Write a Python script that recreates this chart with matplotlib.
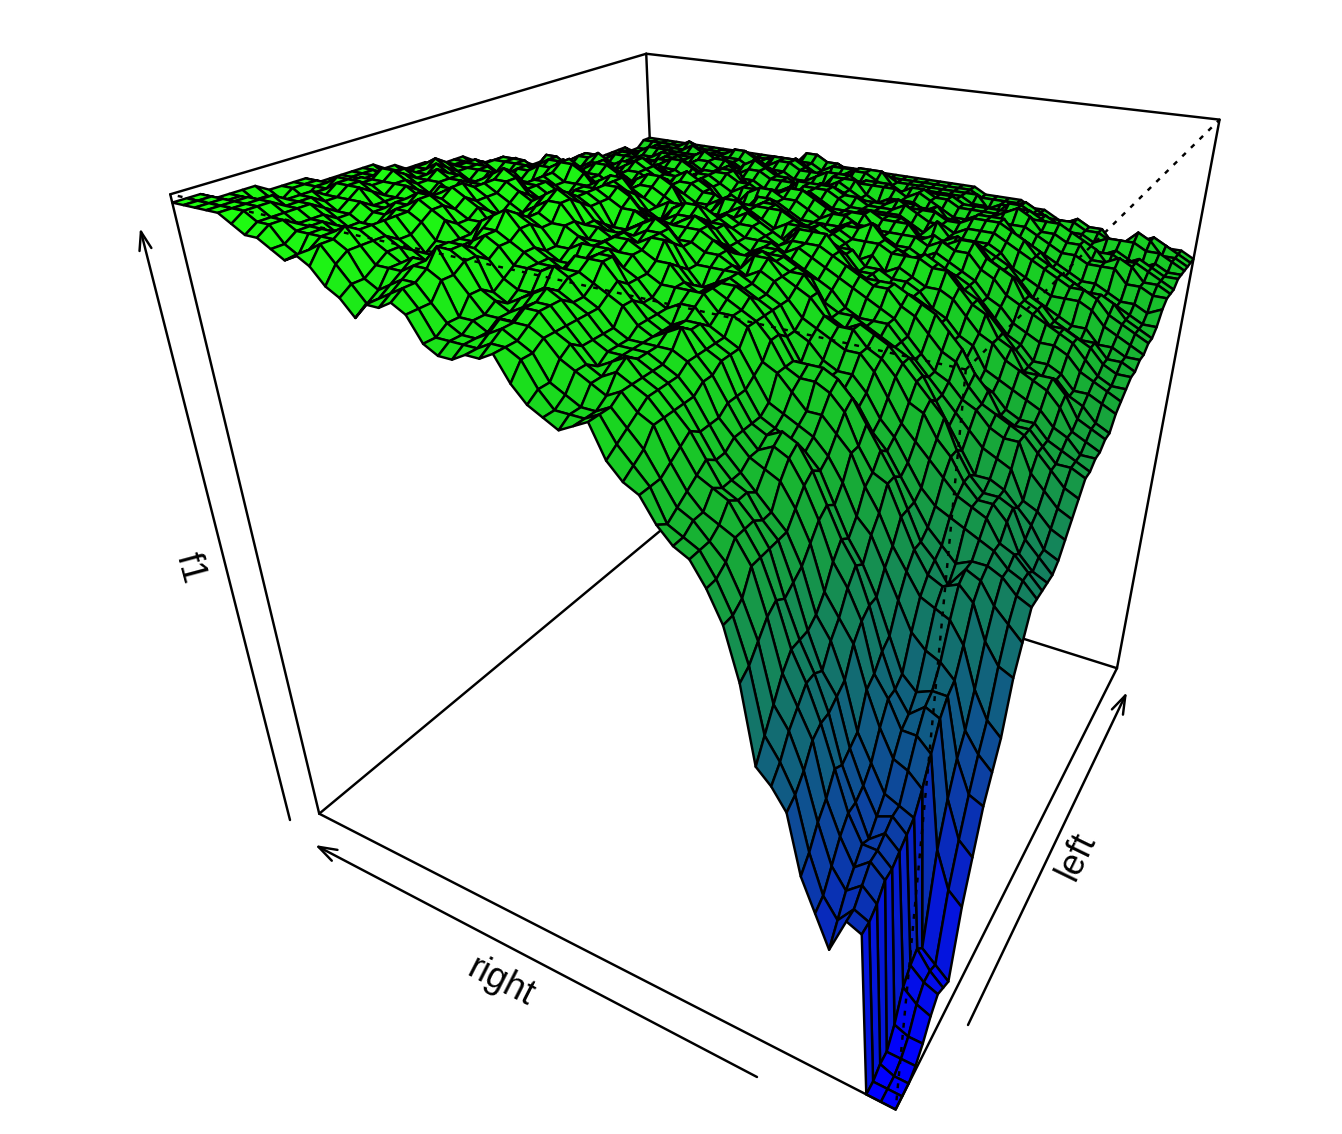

import numpy as np, matplotlib
matplotlib.use('Agg')
import matplotlib.pyplot as plt
from matplotlib.collections import PolyCollection
from matplotlib.colors import LinearSegmentedColormap

axis_labels = ['right', 'left', 'f1']
right = np.linspace(0, 1, 51)
left = np.linspace(0, 1, 51)
f1_rows = """
0 0 0 1 3|6 8 7 6 18|25 32 36 40 48|52 56 56 56 56|56 57 59 61 63|65 65 66 66 67|67 69 70 71 72|72 73 73 74 74|75 77 78 78 78|79 79 79 79 79|79
0 0 0 1 3|7 9 9 8 20|27 33 38 42 49|54 57 58 58 57|58 58 60 62 64|66 66 66 67 68|68 70 71 71 72|73 73 74 75 75|75 76 78 79 79|79 79 80 80 80|80
0 0 1 1 4|9 11 12 10 26|33 38 41 46 52|56 59 59 60 59|60 61 62 64 66|66 67 68 68 69|70 71 72 72 73|73 74 75 76 76|76 77 79 79 80|80 80 81 80 81|80
28 28 29 31 31|32 33 34 37 41|45 47 48 52 57|59 60 61 61 63|64 63 63 66 68|68 68 69 71 72|71 71 73 74 75|75 74 76 77 78|77 77 79 81 81|81 79 81 82 82|81
29 29 31 33 33|34 35 35 39 43|46 47 50 55 59|60 60 62 64 65|65 65 67 70 70|70 70 71 73 74|73 73 75 76 76|75 76 78 79 79|78 78 81 82 81|80 80 82 83 81|80
23 26 29 31 33|32 34 36 40 43|44 46 51 56 58|57 59 63 65 65|65 66 68 70 71|70 70 72 74 74|73 74 76 77 77|76 76 79 80 79|78 79 81 81 80|81 81 82 81 79|80
28 29 32 35 37|37 38 40 44 47|47 48 53 57 59|60 61 64 66 67|67 66 69 71 72|71 71 73 75 74|74 74 76 78 77|77 77 79 80 80|79 79 81 81 82|81 80 82 81 80|80
33 35 38 40 43|42 43 44 49 50|52 53 57 60 62|62 63 65 68 70|70 69 71 73 73|74 73 74 76 77|76 76 77 79 79|79 78 79 81 81|80 80 82 83 83|81 81 81 82 82|80
42 43 45 48 49|49 50 51 55 57|58 58 61 63 66|66 66 67 70 72|74 72 73 74 75|76 74 75 78 78|78 77 78 80 80|80 79 80 82 82|81 81 82 83 84|83 81 82 82 82|81
45 47 50 52 54|54 53 56 58 61|63 62 65 67 70|70 69 70 72 75|76 75 75 76 78|79 77 78 79 81|80 79 80 81 83|82 81 81 83 83|83 82 83 84 85|84 83 82 83 83|81
47 50 53 56 58|58 58 59 61 64|66 65 67 70 71|73 72 73 74 76|78 78 77 77 79|81 79 79 81 82|82 81 81 83 84|83 83 82 84 85|84 83 84 84 85|84 83 83 83 82|81
58 59 61 63 64|63 64 65 67 69|70 69 71 74 74|76 74 75 77 79|80 80 79 79 81|83 81 81 83 84|83 83 83 84 85|84 84 84 85 86|85 84 85 86 85|84 84 84 83 82|82
65 65 66 69 69|69 69 69 71 73|74 73 74 76 78|79 77 78 80 81|82 81 81 81 83|84 83 82 84 86|85 84 84 86 87|86 85 85 86 87|87 85 85 87 86|85 85 84 84 83|83
69 69 70 72 72|72 71 71 74 76|77 75 76 78 80|81 79 80 82 82|83 82 83 83 84|85 84 84 84 86|86 84 85 86 87|86 85 85 86 87|87 85 85 86 85|85 85 85 85 83|83
72 72 72 73 75|74 74 73 75 77|78 76 77 78 81|82 80 80 82 84|84 83 83 84 86|86 84 85 85 87|87 85 86 87 86|85 86 85 86 87|87 85 85 85 85|85 84 85 84 84|84
73 73 74 74 76|75 75 75 76 76|77 77 78 80 81|82 80 81 83 84|83 84 83 85 86|86 84 85 86 87|86 85 85 86 87|85 85 85 85 86|85 84 84 85 85|85 83 83 84 84|84
75 74 75 76 77|78 77 77 78 78|78 78 79 82 82|82 81 83 84 85|84 84 84 86 87|86 86 86 85 87|87 86 86 87 86|85 85 87 86 86|84 85 84 84 85|85 84 84 83 84|84
78 78 78 79 80|81 80 80 80 81|81 81 82 83 85|85 84 84 85 87|87 85 86 87 88|87 86 86 87 88|88 86 86 87 88|87 85 85 86 87|86 85 84 84 85|85 84 84 85 84|84
79 80 81 83 83|83 83 83 84 84|85 85 85 87 87|87 87 87 87 88|89 88 87 88 89|89 88 88 86 88|90 89 87 87 88|88 87 86 87 87|86 86 86 85 86|86 85 85 85 85|85
81 82 83 84 85|85 85 85 86 86|86 86 86 88 88|89 88 88 89 89|89 89 88 89 90|91 89 88 88 88|89 88 88 87 88|88 87 87 88 87|87 86 85 86 86|86 85 85 85 85|85
85 85 85 86 86|86 86 86 87 89|88 88 87 88 89|90 89 89 90 91|90 90 89 90 90|91 90 89 89 89|89 89 88 89 89|88 87 87 87 88|87 86 86 87 87|86 85 85 85 85|85
84 84 84 85 87|88 87 87 87 88|88 88 89 90 90|90 90 90 89 91|91 90 90 89 90|91 90 90 90 88|88 88 89 89 88|88 87 87 87 87|87 86 86 86 87|86 85 85 85 85|85
83 84 84 86 86|87 87 87 87 87|87 87 89 90 89|89 89 90 90 89|90 90 90 90 89|89 90 90 89 88|87 88 89 88 87|87 87 87 87 87|85 85 86 87 86|84 84 85 85 85|85
84 84 85 87 87|86 87 87 87 88|88 88 88 90 90|89 88 90 91 91|90 89 89 90 90|90 88 90 90 89|88 88 88 89 88|87 87 87 88 87|86 85 85 87 87|85 84 84 85 85|85
85 86 86 88 89|88 88 88 88 90|90 89 89 90 92|91 90 90 91 92|91 90 90 90 91|91 89 89 91 90|88 88 89 90 89|87 87 88 88 87|86 86 86 87 87|85 85 85 85 85|85
87 89 89 90 90|90 90 90 90 91|92 91 91 91 92|94 93 92 92 93|93 92 92 91 91|92 91 90 91 91|89 89 90 91 90|88 88 89 89 88|87 87 88 87 87|86 86 87 86 85|85
90 90 90 91 92|92 92 91 91 92|94 94 92 93 93|94 94 94 92 93|94 93 92 92 92|91 92 91 91 91|91 90 90 91 90|89 89 89 89 88|87 88 88 88 86|86 87 87 86 85|85
89 90 91 91 92|92 93 92 93 93|94 94 94 93 94|93 94 95 94 93|93 93 94 93 91|91 91 92 91 90|91 90 91 90 90|90 88 89 89 88|88 87 88 88 87|86 87 87 86 85|85
89 89 90 91 90|91 92 92 94 93|94 93 94 94 94|94 93 94 94 93|92 93 94 92 91|91 90 92 92 89|89 89 91 90 89|89 88 87 89 88|87 87 86 88 87|86 85 86 86 85|85
88 89 89 89 90|90 91 91 93 93|92 92 94 93 93|93 93 93 93 93|91 92 93 93 90|90 90 90 91 90|88 88 90 90 89|87 88 87 87 88|87 85 86 87 87|85 85 85 86 85|85
88 89 89 90 90|91 90 91 93 93|93 92 93 94 93|94 93 92 92 94|93 92 91 93 92|91 89 89 90 91|89 87 88 90 90|88 87 87 87 88|88 86 85 86 87|86 85 84 86 86|85
89 89 90 90 92|92 91 92 93 94|94 93 93 95 95|94 94 93 92 94|95 93 92 92 93|94 91 90 90 91|91 89 88 89 90|89 87 87 87 88|88 87 85 86 87|87 85 85 85 86|85
92 92 92 94 94|95 95 94 95 95|96 96 95 95 97|97 96 95 95 95|96 95 94 93 94|95 94 92 91 92|92 91 90 90 91|91 90 88 88 89|89 88 87 87 88|88 87 86 86 87|85
93 94 94 95 97|96 96 95 96 96|98 97 96 96 97|98 97 96 96 96|96 96 96 94 94|95 94 93 92 92|93 91 91 91 91|91 91 89 88 89|90 88 88 87 88|88 87 87 86 87|85
92 93 94 95 95|96 96 94 95 96|97 97 96 95 96|97 97 95 96 96|95 95 96 95 93|94 94 93 92 91|92 91 90 91 91|90 90 89 87 88|89 88 87 87 87|88 86 86 85 85|85
92 92 93 94 95|94 94 94 94 94|96 96 95 94 95|95 96 95 94 94|94 94 95 94 92|92 93 93 91 90|90 90 90 90 90|88 89 89 87 87|87 87 87 86 86|86 85 85 85 85|85
90 91 92 94 94|93 93 93 94 94|94 95 94 94 94|94 95 94 93 93|93 92 94 93 92|91 92 92 91 89|89 89 89 90 88|87 88 88 87 86|86 87 87 86 85|85 85 85 84 85|85
92 93 93 94 95|95 94 93 94 96|95 95 96 95 94|95 96 95 94 94|94 93 94 95 93|92 92 93 92 90|89 90 90 90 89|88 88 89 88 87|87 87 88 87 85|85 85 86 85 85|85
93 95 96 96 96|96 95 95 96 97|97 96 97 96 96|96 97 97 95 95|95 94 94 96 95|93 93 94 93 91|90 91 91 91 90|89 89 90 89 87|87 88 88 88 86|86 86 87 86 85|85
95 97 97 98 97|97 97 97 97 98|98 97 98 98 97|97 97 98 97 95|95 95 95 96 96|94 93 94 94 92|91 91 92 92 90|90 89 90 90 88|88 88 89 88 87|86 86 87 86 85|85
96 96 97 97 97|97 96 96 97 97|98 97 97 97 97|96 96 97 96 96|94 94 94 95 95|94 92 93 93 92|90 90 91 91 90|89 88 89 89 88|87 87 88 88 86|85 86 86 86 85|85
95 95 97 97 96|96 96 95 96 97|97 96 96 97 96|95 96 96 95 95|94 93 93 95 94|93 91 91 92 92|90 89 90 91 90|88 88 88 89 88|86 86 87 87 86|85 85 86 86 85|85
96 96 97 97 97|96 95 95 96 96|95 96 96 95 95|95 96 95 94 94|94 93 93 94 93|92 91 91 92 91|89 89 89 90 89|87 87 88 88 87|86 86 87 87 85|85 85 85 85 85|85
97 98 98 97 97|97 96 96 97 96|96 96 97 96 95|96 96 96 94 94|95 94 93 94 94|93 91 91 91 91|90 89 89 90 90|88 87 88 88 88|86 86 87 87 86|84 85 85 85 85|85
97 98 98 98 98|98 97 96 97 98|97 96 97 97 96|96 97 96 95 94|95 95 93 93 94|94 92 91 91 92|91 89 89 90 91|89 87 87 88 88|87 86 86 87 87|85 85 85 86 85|85
98 99 99 99 98|98 98 97 97 98|98 97 97 98 97|96 96 97 96 95|95 95 94 93 94|94 93 91 91 92|92 90 89 89 90|90 88 87 87 88|88 86 86 86 87|86 85 85 85 86|85
99 99 99 99 99|98 98 98 97 98|98 97 97 98 97|97 96 96 97 96|95 95 95 94 94|94 93 92 91 91|92 91 89 89 90|90 89 87 87 88|88 87 86 86 87|86 85 85 85 85|85
99 99 99 99 98|98 97 97 97 97|98 97 97 96 97|96 95 96 96 95|94 94 94 93 93|93 92 91 90 90|90 90 88 88 89|89 88 86 86 87|87 86 85 85 86|85 84 85 85 85|85
99 99 99 98 98|97 97 96 96 97|97 96 96 96 96|95 95 95 95 94|94 93 93 93 92|92 92 90 90 90|90 89 88 87 88|88 87 86 86 86|86 85 85 85 85|85 84 84 85 85|85
99 99 99 98 98|97 97 96 97 97|97 96 95 96 96|96 95 95 94 94|94 93 93 93 93|92 92 91 90 90|89 89 88 87 87|87 87 86 85 86|86 85 84 85 85|85 84 84 84 85|85
99 99 99 98 98|98 98 97 97 97|97 96 96 96 96|96 96 95 95 94|94 94 93 93 93|93 92 91 91 90|90 90 89 88 88|88 87 87 86 86|86 85 85 85 85|85 85 84 84 85|85
"""
f1 = np.array([[float(x) for x in r.replace('|',' ').split()] for r in f1_rows.strip().splitlines()]) / 100

# projection of the unit box onto the page, fitted to the box's eight corners
corners = {(0,0,0):(894,1109),(1,0,0):(317,815),(0,1,0):(1115,671),(1,1,0):(670,523),
           (0,0,1):(970,358),(1,0,1):(172,201),(0,1,1):(1221,123),(1,1,1):(642,52)}
A = []
for (u,v,w),(x,y) in corners.items():
    A.append([u,v,w,1,0,0,0,0,-x*u,-x*v,-x*w,-x])
    A.append([0,0,0,0,u,v,w,1,-y*u,-y*v,-y*w,-y])
P = np.linalg.svd(np.array(A,float))[2][-1].reshape(3,4)
P = P/P[2,3]
def proj(u,v,w):
    u,v,w = np.asarray(u,float),np.asarray(v,float),np.asarray(w,float)
    h = np.tensordot(P, np.array([u,v,w,np.ones_like(u)]), axes=1)
    return h[0]/h[2], h[1]/h[2]

fig = plt.figure(figsize=(13.42,11.34), dpi=100)
ax = fig.add_axes([0,0,1,1])
ax.set_xlim(0,1342); ax.set_ylim(1134,0); ax.axis('off')
lw = 1.75
def edge(a,b,ls='-',z=1):
    xa,ya = proj(*a); xb,yb = proj(*b)
    ax.plot([xa,xb],[ya,yb],color='k',lw=lw,ls=ls,zorder=z,solid_capstyle='round',dash_capstyle='butt')

for a,b in [((1,1,1),(1,0,1)),((1,1,1),(0,1,1)),((1,1,1),(1,1,0)),((1,1,0),(1,0,0)),((1,1,0),(0,1,0))]:
    edge(a,b,z=1)

U,V = np.meshgrid(right,left,indexing='ij')
X,Y = proj(U,V,f1)
polys=[];vals=[]
for i in range(f1.shape[0]-2,-1,-1):
    for j in range(f1.shape[1]-2,-1,-1):
        polys.append([(X[i,j],Y[i,j]),(X[i+1,j],Y[i+1,j]),(X[i+1,j+1],Y[i+1,j+1]),(X[i,j+1],Y[i,j+1])])
        vals.append(f1[i:i+2,j:j+2].mean())
cmap = LinearSegmentedColormap.from_list('bg',[(0,(0,0,1)),(.25,(.03,.15,.75)),(.5,(.07,.42,.45)),(.7,(.09,.66,.22)),(.85,(.1,.85,.12)),(1,(.12,1,.06))])
pc = PolyCollection(polys,array=np.array(vals),cmap=cmap,norm=plt.Normalize(0,1),edgecolors='k',linewidths=lw,zorder=2,joinstyle='round')
ax.add_collection(pc)

dash=(0,(2,3))
for a,b in [((0,0,1),(1,0,1)),((0,0,1),(0,1,1)),((0,0,1),(0,0,0))]:
    edge(a,b,ls=dash,z=3)
for a,b in [((0,0,0),(1,0,0)),((0,0,0),(0,1,0)),((1,0,0),(1,0,1)),((0,1,0),(0,1,1))]:
    edge(a,b,z=3)

for (x0,y0,x1,y1) in [(757,1077,315,845),(968,1025,1127,692),(290,820,140,228)]:
    ax.annotate('',xy=(x1,y1),xytext=(x0,y0),arrowprops=dict(arrowstyle='->,head_length=0.6,head_width=0.2',color='k',lw=lw,shrinkA=0,shrinkB=0,mutation_scale=22),zorder=3)
font=['Liberation Sans','DejaVu Sans']
ax.text(501,982,axis_labels[0],rotation=-27,ha='center',va='center',fontsize=26,family=font,rotation_mode='anchor')
ax.text(1077,856,axis_labels[1],rotation=64,ha='center',va='center',fontsize=26,family=font,rotation_mode='anchor')
ax.text(190,568,axis_labels[2],rotation=-75,ha='center',va='center',fontsize=26,family=font,rotation_mode='anchor')
fig.savefig('out.png',dpi=100)
